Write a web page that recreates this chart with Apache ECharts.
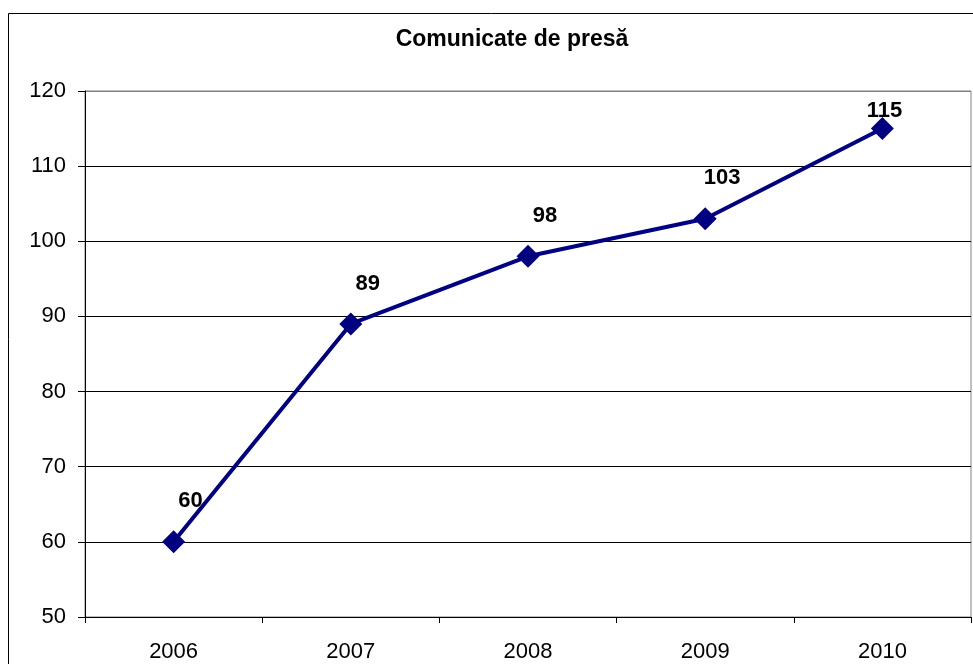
<!DOCTYPE html>
<html>
<head>
<meta charset="utf-8">
<script src="https://cdn.jsdelivr.net/npm/echarts@6/dist/echarts.min.js"></script>
<style>
html,body{margin:0;padding:0;background:#fff;}
#chart{width:973px;height:664px;}
</style>
</head>
<body>
<div id="chart"></div>
<script>
const titleText = 'Comunicate de presă';
const categories = ['2006', '2007', '2008', '2009', '2010'];
const values = [60, 89, 98, 103, 115];
const yMin = 50, yMax = 120, yStep = 10;

const chart = echarts.init(document.getElementById('chart'), null, {renderer: 'canvas'});
const FONT = '"Liberation Sans", Arial, sans-serif';

const nLines = (yMax - yMin) / yStep + 1;
const splitColors = [];
for (let i = 0; i < nLines; i++) splitColors.push(i === nLines - 1 ? '#808080' : '#000000');

const seriesData = values.map((v, i) => {
  const last = i === values.length - 1;
  return {
    value: v,
    label: last ? {position: 'top', distance: 4, offset: [2, 9]} : {position: 'top', distance: 18, offset: [17, 0]}
  };
});

chart.setOption({
  animation: false,
  backgroundColor: '#ffffff',
  title: {
    text: titleText,
    left: 507,
    textAlign: 'center',
    top: 23,
    textStyle: {fontFamily: FONT, fontSize: 23, fontWeight: 'bold', color: '#000'}
  },
  graphic: [{
    type: 'rect',
    shape: {x: 8.5, y: 13.5, width: 1000, height: 700},
    style: {fill: 'none', stroke: '#000', lineWidth: 1},
    silent: true,
    z: -10
  }],
  grid: {
    left: 85, right: 2, top: 91, bottom: 47,
    show: true, borderColor: '#808080', borderWidth: 1, backgroundColor: 'transparent'
  },
  xAxis: {
    type: 'category',
    data: categories,
    boundaryGap: true,
    axisLine: {show: true, lineStyle: {color: '#000', width: 1}},
    axisTick: {show: true, alignWithLabel: false, length: 6, lineStyle: {color: '#000'}},
    axisLabel: {fontFamily: FONT, fontSize: 22, color: '#000', margin: 24},
    splitLine: {show: false}
  },
  yAxis: {
    type: 'value',
    min: yMin, max: yMax, interval: yStep,
    axisLine: {show: true, lineStyle: {color: '#000', width: 1}},
    axisTick: {show: true, length: 7, lineStyle: {color: '#000'}},
    axisLabel: {fontFamily: FONT, fontSize: 22, color: '#000', margin: 19},
    splitLine: {show: true, lineStyle: {color: splitColors, width: 1}}
  },
  series: [{
    type: 'line',
    data: seriesData,
    symbol: 'diamond',
    symbolSize: 23,
    itemStyle: {color: '#000080'},
    lineStyle: {color: '#000080', width: 4},
    label: {show: true, fontFamily: FONT, fontSize: 22, fontWeight: 'bold', color: '#000'}
  }]
});
</script>
</body>
</html>
